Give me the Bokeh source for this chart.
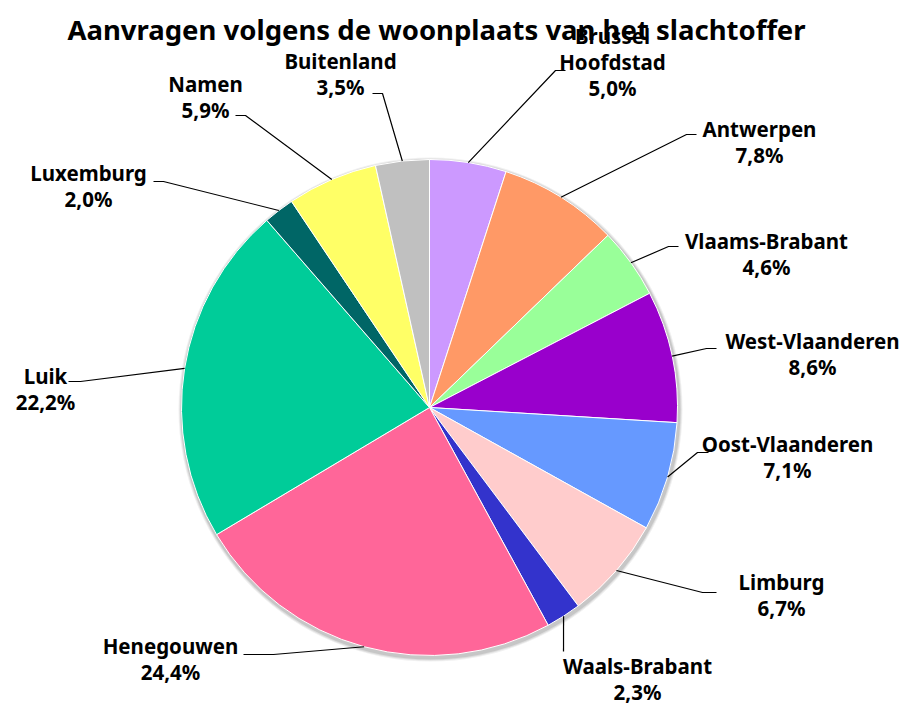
import math
from bokeh.plotting import figure
from bokeh.models import Range1d
from bokeh.core.properties import value
from bokeh.embed import file_html
from bokeh.resources import INLINE

# ---- data ----
title = "Aanvragen volgens de woonplaats van het slachtoffer"
regions = ["Brussel Hoofdstad", "Antwerpen", "Vlaams-Brabant", "West-Vlaanderen",
           "Oost-Vlaanderen", "Limburg", "Waals-Brabant", "Henegouwen", "Luik",
           "Luxemburg", "Namen", "Buitenland"]
label_lines = [["Brussel", "Hoofdstad"], ["Antwerpen"], ["Vlaams-Brabant"], ["West-Vlaanderen"],
               ["Oost-Vlaanderen"], ["Limburg"], ["Waals-Brabant"], ["Henegouwen"], ["Luik"],
               ["Luxemburg"], ["Namen"], ["Buitenland"]]
shares = [5.0, 7.8, 4.6, 8.6, 7.1, 6.7, 2.3, 24.4, 22.2, 2.0, 5.9, 3.5]
colors = ["#CC99FF", "#FF9966", "#99FF99", "#9900CC", "#6699FF", "#FFCCCC",
          "#3333CC", "#FF6699", "#00CC99", "#006666", "#FFFF66", "#C0C0C0"]

# ---- layout (page pixels) ----
W, H = 903, 705
OX, OY = 0, 0
def X(px): return px - OX
def Y(py): return (H + OY) - py

CX, CY, R = 429, 407, 248
# label centre x, first line y, elbow point, end point
layout = [
    (612, 35, (555, 70), (565, 70)),
    (759, 128, (686, 134), (696, 134)),
    (766, 240, (668, 246), (678, 246)),
    (812, 340, (706, 348), (716, 348)),
    (787, 443, (697, 452), (708, 452)),
    (781, 581, (702, 592), (716, 592)),
    (637, 665, (563, 651), (563, 651)),
    (170, 645, (273, 654), (243, 654)),
    (45, 375, (80, 381), (68, 381)),
    (88, 172, (163, 181), (153, 181)),
    (205, 83, (245, 115), (235, 115)),
    (340, 60, (382, 93), (372, 93)),
]
LINE_GAP = 26.0
FONT = "Noto Sans"

p = figure(width=W, height=H, output_backend="svg", toolbar_location=None,
           x_range=Range1d(0, W), y_range=Range1d(0, H), min_border=0)
p.axis.visible = False
p.grid.visible = False
p.outline_line_color = None
p.background_fill_color = "white"

# title
p.text(x=[X(436)], y=[Y(29)], text=[title], text_align="center", text_baseline="middle",
       text_font=value(FONT), text_font_size="27.5px", text_font_style="bold", text_color="black")

# shadow
for k, a in [(4, 0.06), (3, 0.08), (2, 0.1)]:
    p.circle(x=[X(CX) + 1], y=[Y(CY) - 2], radius=R + k, radius_units="screen",
             fill_color="black", fill_alpha=a, line_color=None)

# wedges
total = sum(shares)
starts, ends, mids = [], [], []
acc = 0.0
for s in shares:
    a0 = math.pi / 2 - 2 * math.pi * acc / total
    acc += s
    a1 = math.pi / 2 - 2 * math.pi * acc / total
    starts.append(a0)
    ends.append(a1)
    mids.append((a0 + a1) / 2)

p.wedge(x=X(CX), y=Y(CY), radius=R, radius_units="screen",
        start_angle=starts, end_angle=ends, direction="clock",
        fill_color=colors, line_color="white", line_width=1)

# leaders and labels
for i, (lx, ly, elbow, end) in enumerate(layout):
    ex = X(CX) + R * math.cos(mids[i])
    ey = Y(CY) + R * math.sin(mids[i])
    p.line(x=[ex, X(elbow[0]), X(end[0])], y=[ey, Y(elbow[1]), Y(end[1])],
           line_color="black", line_width=1.2)
    lines = label_lines[i] + [f"{shares[i]:.1f}".replace(".", ",") + "%"]
    for j, t in enumerate(lines):
        p.text(x=[X(lx)], y=[Y(ly + j * LINE_GAP)], text=[t], text_align="center",
               text_baseline="middle", text_font=value(FONT), text_font_size="20.5px",
               text_font_style="bold", text_color="black")

open("out.html", "w").write(file_html(p, INLINE))
